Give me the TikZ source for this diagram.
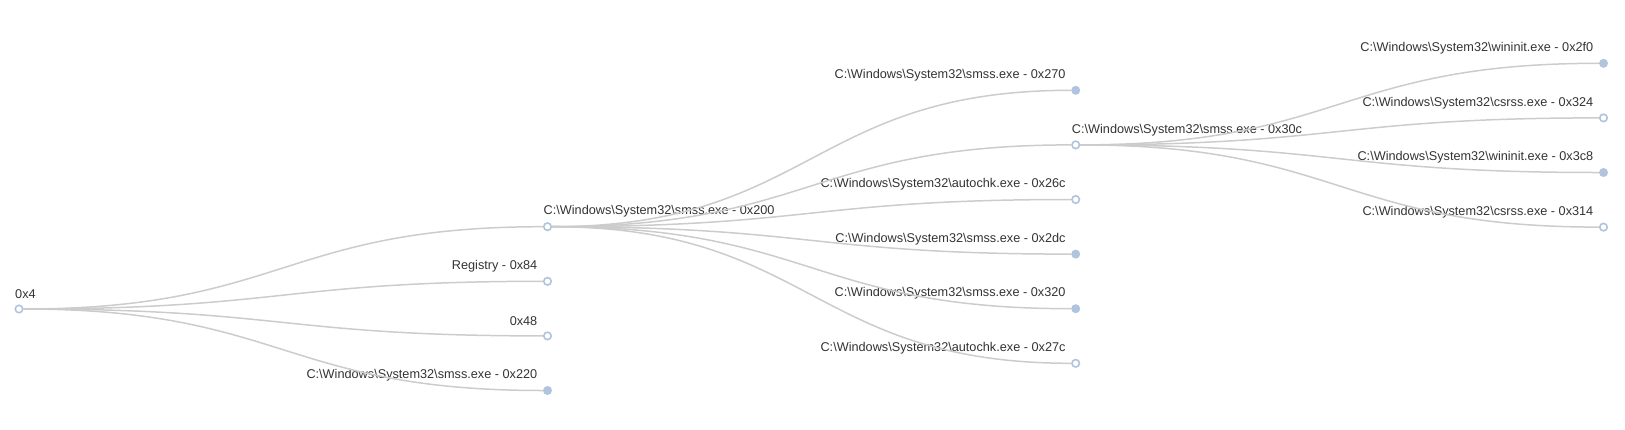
\documentclass[tikz,border=0pt]{standalone}
\usepackage{fontspec}
\setmainfont{Liberation Sans}
\usetikzlibrary{positioning}
\definecolor{edgegray}{HTML}{CCCCCC}
\definecolor{nodeblue}{HTML}{B0C4DE}
\definecolor{txtgray}{HTML}{333333}
\newcommand{\winsys}{C:\textbackslash Windows\textbackslash System32\textbackslash}

\begin{document}
\begin{tikzpicture}[x=1pt, y=-1pt,
    edge/.style={draw=edgegray, line width=1.5pt},
    open/.style={circle, draw=nodeblue, fill=white, line width=1.6pt, minimum size=7.5pt, inner sep=0pt},
    full/.style={circle, fill=nodeblue, minimum size=9pt, inner sep=0pt},
    lbl/.style={font=\fontsize{12.7}{14}\selectfont, text=txtgray, inner sep=0pt}]
    \useasboundingbox (0,0) rectangle (1625,429);
    % tree nodes
    \node[open] (p4) at (19,309) {};
    \node[lbl, anchor=west] (t4) at ([xshift=-4pt, yshift=15pt]p4.center) {0x4};
    \node[open] (p200) at (547.5,226.7) {};
    \node[lbl, anchor=west] (t200) at ([xshift=-4pt, yshift=15pt]p200.center) {\winsys smss.exe - 0x200};
    \node[open] (p30c) at (1075.7,144.9) {};
    \node[lbl, anchor=west] (t30c) at ([xshift=-4pt, yshift=15pt]p30c.center) {\winsys smss.exe - 0x30c};
    \foreach \id/\y/\kind/\txt in {84/281.3/open/{Registry - 0x84}, 48/335.9/open/{0x48},
        220/390.5/full/{\winsys smss.exe - 0x220}} {
      \node[\kind] (p\id) at (547.5,\y) {};
      \node[lbl, anchor=east] (t\id) at ([xshift=-10pt, yshift=15pt]p\id.center) {\txt};
    }
    \foreach \id/\y/\kind/\txt in {270/90.3/full/{\winsys smss.exe - 0x270},
        26c/199.5/open/{\winsys autochk.exe - 0x26c}, 2dc/254.1/full/{\winsys smss.exe - 0x2dc},
        320/308.7/full/{\winsys smss.exe - 0x320}, 27c/363.3/open/{\winsys autochk.exe - 0x27c}} {
      \node[\kind] (p\id) at (1075.7,\y) {};
      \node[lbl, anchor=east] (t\id) at ([xshift=-10pt, yshift=15pt]p\id.center) {\txt};
    }
    \foreach \id/\y/\kind/\txt in {2f0/63.3/full/{\winsys wininit.exe - 0x2f0},
        324/117.9/open/{\winsys csrss.exe - 0x324}, 3c8/172.5/full/{\winsys wininit.exe - 0x3c8},
        314/227.1/open/{\winsys csrss.exe - 0x314}} {
      \node[\kind] (p\id) at (1603.5,\y) {};
      \node[lbl, anchor=east] (t\id) at ([xshift=-10pt, yshift=15pt]p\id.center) {\txt};
    }
    % edges
    \foreach \a/\b in {4/200, 4/84, 4/48, 4/220, 200/270, 200/30c, 200/26c, 200/2dc, 200/320, 200/27c,
        30c/2f0, 30c/324, 30c/3c8, 30c/314}
      \draw[edge] (p\a) .. controls ([xshift=264pt]p\a.center) and ([xshift=-264pt]p\b.center) .. (p\b);
\end{tikzpicture}
\end{document}
